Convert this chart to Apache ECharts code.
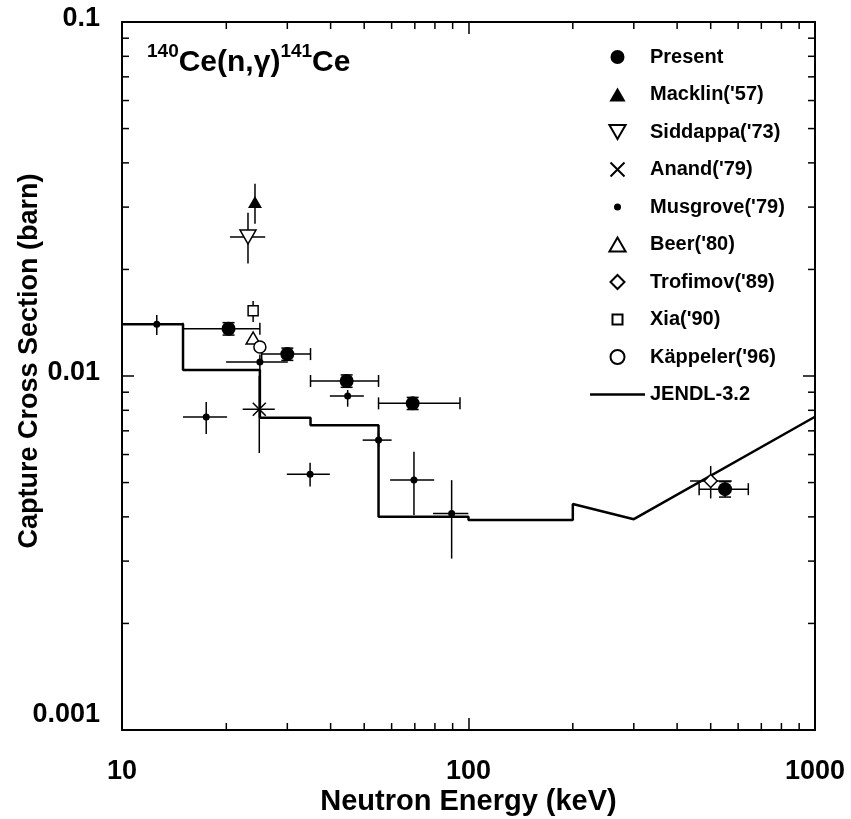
<!DOCTYPE html>
<html><head><meta charset="utf-8">
<script src="https://cdn.jsdelivr.net/npm/echarts@6/dist/echarts.min.js"></script>
<style>html,body{margin:0;padding:0;background:#fff}#c{width:851px;height:819px}</style>
</head><body><div id="c"></div>
<script>
const FONT = "'Liberation Sans', Arial, Helvetica, sans-serif";

// ---- axes ----
const xTicks = [10, 100, 1000];
const xTickLabels = ['10', '100', '1000'];
const xMinorTicks = [20, 30, 40, 50, 60, 70, 80, 90, 200, 300, 400, 500, 600, 700, 800, 900];
const yTicks = [0.001, 0.01, 0.1];
const yTickLabels = ['0.001', '0.01', '0.1'];
const yMinorTicks = [0.002, 0.003, 0.004, 0.005, 0.006, 0.007, 0.008, 0.009,
                     0.02, 0.03, 0.04, 0.05, 0.06, 0.07, 0.08, 0.09];

// ---- Present ----
const presentE    = [20.3, 30, 44.5, 69, 550];
const presentXS   = [0.0136, 0.01153, 0.00968, 0.00837, 0.00479];
const presentEMin = [15, 25.3, 35, 55, 463];
const presentEMax = [25, 35, 55, 94.5, 642];
const presentXSMin = [0.01305, 0.01107, 0.00929, 0.00804, 0.00455];
const presentXSMax = [0.01415, 0.01199, 0.01007, 0.0087, 0.00503];

// ---- Macklin('57) ----
const macklinE = [24.2];
const macklinXS = [0.0310];
const macklinXSMin = [0.0269];
const macklinXSMax = [0.0349];

// ---- Siddappa('73) ----
const siddappaE = [23.1];
const siddappaXS = [0.0247];
const siddappaEMin = [20.5];
const siddappaEMax = [25.9];
const siddappaXSMin = [0.0208];
const siddappaXSMax = [0.0289];

// ---- Anand('79) ----
const anandE = [24.9];
const anandXS = [0.00806];
const anandEMin = [22.3];
const anandEMax = [27.6];
const anandXSMin = [0.00606];
const anandXSMax = [0.0100];

// ---- Musgrove('79) ----
const musgroveE    = [12.6, 17.5, 25.0, 34.9, 44.8, 55.0, 69.6, 89.4];
const musgroveXS   = [0.0140, 0.00766, 0.01095, 0.00528, 0.00878, 0.00659, 0.00508, 0.00409];
const musgroveEMin = [11.5, 15.0, 19.97, 29.9, 39.8, 49.5, 59.4, 79.0];
const musgroveEMax = [14.0, 20.1, 30.1, 39.8, 49.9, 60.0, 79.6, 99.9];
const musgroveXSMin = [0.01305, 0.00686, 0.0104, 0.00487, 0.00819, 0.0063, 0.00405, 0.00305];
const musgroveXSMax = [0.01487, 0.00844, 0.0115, 0.00569, 0.00913, 0.0069, 0.00611, 0.00508];

// ---- Beer('80) ----
const beerE = [23.9];
const beerXS = [0.0128];

// ---- Trofimov('89) ----
const trofimovE = [500];
const trofimovXS = [0.00505];
const trofimovEMin = [436];
const trofimovEMax = [575];
const trofimovXSMin = [0.00451];
const trofimovXSMax = [0.00557];

// ---- Xia('90) ----
const xiaE = [23.9];
const xiaXS = [0.01529];
const xiaXSMin = [0.01421];
const xiaXSMax = [0.01629];

// ---- Käppeler('96) ----
const kappelerE = [25.0];
const kappelerXS = [0.01208];

// ---- JENDL-3.2 ----
const jendlE  = [10, 15, 15, 25, 25, 35, 35, 55, 55, 100, 100, 200, 200, 300, 1000];
const jendlXS = [0.0140, 0.0140, 0.0104, 0.0104, 0.00762, 0.00762, 0.00726, 0.00726,
                 0.00400, 0.00400, 0.00392, 0.00392, 0.00435, 0.00394, 0.00767];

// ---------------------------------------------------------------
const SYM = {
  up: 'path://M5,0L10,8.66L0,8.66Z',
  down: 'path://M0,0L10,0L5,8.66Z',
  diamond: 'path://M5,0L10,5L5,10L0,5Z',
  square: 'path://M-2,-2M12,12M0,0L10,0L10,10L0,10Z',
  cross: 'path://M0,0L10,10M10,0L0,10',
  dot: 'path://M0,0M14,14M7,3.5A3.5,3.5,0,1,1,7,10.5A3.5,3.5,0,1,1,7,3.5Z'
};

function pairs(a, b) { return a.map((v, i) => [v, b[i]]); }

function fmtTick(v, ticks, labels) {
  const i = ticks.findIndex(t => Math.abs(Math.log10(t) - Math.log10(v)) < 1e-6);
  return i >= 0 ? labels[i] : '';
}

function errSeries(name, E, S, Emin, Emax, Smin, Smax, caps) {
  const data = E.map((e, i) => [e, S[i], Emin[i], Emax[i], Smin[i], Smax[i]]);
  return {
    type: 'custom', name: name + ' err', silent: true, z: 3,
    xAxisIndex: 0, yAxisIndex: 0,
    encode: { x: 0, y: 1 },
    data: data,
    renderItem: function (params, api) {
      const e = api.value(0), s = api.value(1);
      const e0 = api.value(2), e1 = api.value(3), s0 = api.value(4), s1 = api.value(5);
      const st = { stroke: '#000', lineWidth: 1.5 };
      const ch = [];
      const C = 6;
      if (e1 > e0) {
        const a = api.coord([e0, s]), b = api.coord([e1, s]);
        ch.push({ type: 'line', shape: { x1: a[0], y1: a[1], x2: b[0], y2: b[1] }, style: st });
        if (caps) {
          ch.push({ type: 'line', shape: { x1: a[0], y1: a[1] - C, x2: a[0], y2: a[1] + C }, style: st });
          ch.push({ type: 'line', shape: { x1: b[0], y1: b[1] - C, x2: b[0], y2: b[1] + C }, style: st });
        }
      }
      if (s1 > s0) {
        const a = api.coord([e, s0]), b = api.coord([e, s1]);
        ch.push({ type: 'line', shape: { x1: a[0], y1: a[1], x2: b[0], y2: b[1] }, style: st });
        if (caps) {
          ch.push({ type: 'line', shape: { x1: a[0] - C, y1: a[1], x2: a[0] + C, y2: a[1] }, style: st });
          ch.push({ type: 'line', shape: { x1: b[0] - C, y1: b[1], x2: b[0] + C, y2: b[1] }, style: st });
        }
      }
      return { type: 'group', children: ch };
    }
  };
}

function scatter(name, E, S, symbol, size, filled, stroke) {
  return {
    type: 'scatter', name: name, data: pairs(E, S), z: 4,
    symbol: symbol, symbolSize: size,
    itemStyle: filled
      ? { color: '#000', borderColor: '#000', borderWidth: stroke ? 1.5 : 0, opacity: 1 }
      : { color: '#fff', borderColor: '#000', borderWidth: 1.5, opacity: 1 },
    emphasis: { disabled: true }
  };
}

const tickStyle = { color: '#000', width: 1.5 };

function minorTicksX(params, api) {
  const cs = params.coordSys;
  const x = api.coord([api.value(0), 0.01])[0];
  const L = 7, st = { stroke: '#000', lineWidth: 1.5 };
  return { type: 'group', children: [
    { type: 'line', shape: { x1: x, y1: cs.y + cs.height, x2: x, y2: cs.y + cs.height - L }, style: st },
    { type: 'line', shape: { x1: x, y1: cs.y, x2: x, y2: cs.y + L }, style: st }
  ] };
}
function minorTicksY(params, api) {
  const cs = params.coordSys;
  const y = api.coord([100, api.value(1)])[1];
  const L = 7, st = { stroke: '#000', lineWidth: 1.5 };
  return { type: 'group', children: [
    { type: 'line', shape: { x1: cs.x, y1: y, x2: cs.x + L, y2: y }, style: st },
    { type: 'line', shape: { x1: cs.x + cs.width, y1: y, x2: cs.x + cs.width - L, y2: y }, style: st }
  ] };
}

const axisCommon = {
  type: 'log', logBase: 10,
  axisLine: { show: true, onZero: false, lineStyle: { color: '#000', width: 2 } },
  axisTick: { show: true, inside: true, length: 12, lineStyle: tickStyle },
  minorTick: { show: false },
  splitLine: { show: false },
  minorSplitLine: { show: false }
};

const chart = echarts.init(document.getElementById('c'), null, { renderer: 'canvas' });
chart.setOption({
  backgroundColor: '#fff',
  animation: false,
  textStyle: { fontFamily: FONT, color: '#000' },
  title: {
    text: '{s|140}{b|Ce(n,γ)}{s|141}{b|Ce}',
    left: 147, top: 42, padding: 0,
    textStyle: {
      fontFamily: FONT, color: '#000', fontWeight: 'bold', fontSize: 30, lineHeight: 44,
      rich: {
        s: { fontFamily: FONT, fontWeight: 'bold', fontSize: 19, lineHeight: 20, verticalAlign: 'top', color: '#000' },
        b: { fontFamily: FONT, fontWeight: 'bold', fontSize: 30, lineHeight: 36, verticalAlign: 'bottom', color: '#000' }
      }
    }
  },
  grid: { left: 122, right: 36, top: 22, bottom: 89, containLabel: false, outerBoundsMode: 'none' },
  legend: {
    orient: 'vertical', left: 590, top: 47, itemWidth: 55, itemHeight: 14, itemGap: 17.5,
    selectedMode: false, padding: 0,
    textStyle: { fontFamily: FONT, fontSize: 20, fontWeight: 'bold', color: '#000', lineHeight: 20 },
    data: ['Present', "Macklin('57)", "Siddappa('73)", "Anand('79)", "Musgrove('79)",
           "Beer('80)", "Trofimov('89)", "Xia('90)", "Käppeler('96)",
           { name: 'JENDL-3.2', icon: 'path://M0,0L55,0L55,2.5L0,2.5Z' }]
  },
  xAxis: [
    Object.assign({}, axisCommon, {
      position: 'bottom', min: 10, max: 1000,
      axisLabel: {
        show: true, margin: 28, fontFamily: FONT, fontSize: 27, fontWeight: 'bold', color: '#000',
        formatter: v => fmtTick(v, xTicks, xTickLabels)
      },
      name: 'Neutron Energy (keV)', nameLocation: 'middle', nameGap: 57, nameMoveOverlap: false,
      nameTextStyle: { fontFamily: FONT, fontSize: 29, fontWeight: 'bold', color: '#000' }
    }),
    Object.assign({}, axisCommon, {
      position: 'top', min: 10, max: 1000, axisLabel: { show: false }
    })
  ],
  yAxis: [
    Object.assign({}, axisCommon, {
      position: 'left', min: 0.001, max: 0.1,
      axisLabel: {
        show: true, margin: 22, fontFamily: FONT, fontSize: 27, fontWeight: 'bold', color: '#000',
        formatter: v => {
          const t = fmtTick(v, yTicks, yTickLabels);
          if (!t) return '';
          return (t === yTickLabels[0] ? '{lo|' : '{n|') + t + '}';
        },
        rich: {
          lo: { fontFamily: FONT, fontSize: 27, fontWeight: 'bold', color: '#000', padding: [0, 0, 30, 0] },
          n: { fontFamily: FONT, fontSize: 27, fontWeight: 'bold', color: '#000', padding: [0, 0, 6, 0] }
        }
      },
      name: 'Capture Cross Section (barn)', nameLocation: 'middle', nameGap: 79, nameMoveOverlap: false,
      nameTextStyle: { fontFamily: FONT, fontSize: 27, fontWeight: 'bold', color: '#000', padding: [0, 0, 0, 30] }
    }),
    Object.assign({}, axisCommon, {
      position: 'right', min: 0.001, max: 0.1, axisLabel: { show: false }
    })
  ],
  series: [
    { type: 'custom', name: 'xminor', silent: true, z: 1, renderItem: minorTicksX,
      encode: { x: 0, y: 1 }, data: xMinorTicks.map(v => [v, 0.01]) },
    { type: 'custom', name: 'yminor', silent: true, z: 1, renderItem: minorTicksY,
      encode: { x: 0, y: 1 }, data: yMinorTicks.map(v => [100, v]) },
    {
      type: 'line', name: 'JENDL-3.2', data: pairs(jendlE, jendlXS), z: 2,
      symbol: 'none', showSymbol: false, color: '#000',
      lineStyle: { color: '#000', width: 2.5 }, itemStyle: { color: '#000' },
      emphasis: { disabled: true }
    },
    errSeries('Present', presentE, presentXS, presentEMin, presentEMax, presentXSMin, presentXSMax, true),
    errSeries("Macklin('57)", macklinE, macklinXS, macklinE, macklinE, macklinXSMin, macklinXSMax, false),
    errSeries("Siddappa('73)", siddappaE, siddappaXS, siddappaEMin, siddappaEMax, siddappaXSMin, siddappaXSMax, false),
    errSeries("Anand('79)", anandE, anandXS, anandEMin, anandEMax, anandXSMin, anandXSMax, false),
    errSeries("Musgrove('79)", musgroveE, musgroveXS, musgroveEMin, musgroveEMax, musgroveXSMin, musgroveXSMax, false),
    errSeries("Trofimov('89)", trofimovE, trofimovXS, trofimovEMin, trofimovEMax, trofimovXSMin, trofimovXSMax, false),
    errSeries("Xia('90)", xiaE, xiaXS, xiaE, xiaE, xiaXSMin, xiaXSMax, false),
    scatter('Present', presentE, presentXS, 'circle', 14, true),
    scatter("Macklin('57)", macklinE, macklinXS, SYM.up, [14, 12], true),
    scatter("Siddappa('73)", siddappaE, siddappaXS, SYM.down, [16, 14], false),
    scatter("Anand('79)", anandE, anandXS, SYM.cross, 13, true, true),
    scatter("Musgrove('79)", musgroveE, musgroveXS, SYM.dot, 14, true),
    scatter("Beer('80)", beerE, beerXS, SYM.up, [14, 12], false),
    scatter("Trofimov('89)", trofimovE, trofimovXS, SYM.diamond, 13, false),
    scatter("Xia('90)", xiaE, xiaXS, SYM.square, 14, false),
    scatter("Käppeler('96)", kappelerE, kappelerXS, 'circle', 12, false)
  ]
});
</script></body></html>
